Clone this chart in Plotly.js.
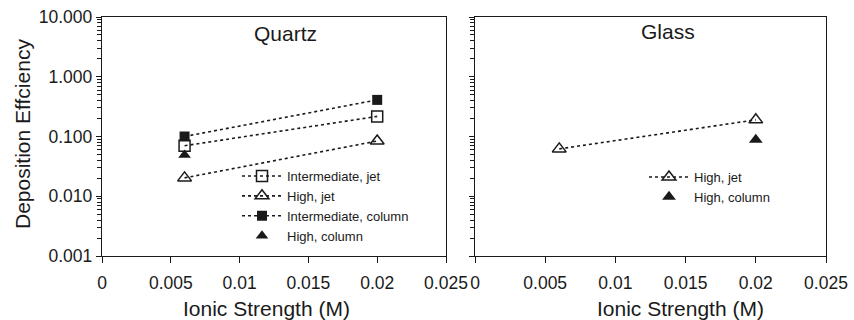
<!DOCTYPE html>
<html>
<head>
<meta charset="utf-8">
<script src="https://cdn.plot.ly/plotly-3.0.1.min.js"></script>
<style>html,body{margin:0;padding:0;background:#fff}#chart{width:854px;height:320px}</style>
</head>
<body>
<div id="chart"></div>
<script>
// Data
const quartzX = [0.006, 0.02];
const quartzIntJet = [0.070, 0.217];
const quartzHighJet = [0.0203, 0.084];
const quartzIntColumn = [0.100, 0.41];
const quartzHighColumnX = [0.006];
const quartzHighColumn = [0.049];

const glassX = [0.006, 0.02];
const glassHighJet = [0.062, 0.19];
const glassHighColumnX = [0.02];
const glassHighColumn = [0.088];

const xTickVals = [0, 0.005, 0.01, 0.015, 0.02, 0.025];
const xTickText = ['0', '0.005', '0.01', '0.015', '0.02', '0.025'];

const FONT = 'Liberation Sans, Arial, Helvetica, sans-serif';
const INK = '#1a1a1a';
const W = 854, H = 320;
const px = v => v / W;
const py = v => 1 - v / H;

const dotLine = {color: INK, width: 1.6, dash: 'dot'};

const traces = [
  {x: quartzX, y: quartzIntJet, name: 'Intermediate, jet', mode: 'lines+markers',
   line: dotLine, marker: {symbol: 'square-open', size: 11, color: INK, line: {width: 1.5, color: INK}},
   xaxis: 'x', yaxis: 'y', legend: 'legend'},
  {x: quartzX, y: quartzHighJet, name: 'High, jet', mode: 'lines+markers',
   line: dotLine, marker: {symbol: 'triangle-up-open', size: 12, color: INK, line: {width: 1.5, color: INK}},
   xaxis: 'x', yaxis: 'y', legend: 'legend'},
  {x: quartzX, y: quartzIntColumn, name: 'Intermediate, column', mode: 'lines+markers',
   line: dotLine, marker: {symbol: 'square', size: 10, color: INK},
   xaxis: 'x', yaxis: 'y', legend: 'legend'},
  {x: quartzHighColumnX, y: quartzHighColumn, name: 'High, column', mode: 'markers',
   marker: {symbol: 'triangle-up', size: 11, color: INK},
   xaxis: 'x', yaxis: 'y', legend: 'legend'},
  {x: glassX, y: glassHighJet, name: 'High, jet', mode: 'lines+markers',
   line: dotLine, marker: {symbol: 'triangle-up-open', size: 12, color: INK, line: {width: 1.5, color: INK}},
   xaxis: 'x2', yaxis: 'y2', legend: 'legend2'},
  {x: glassHighColumnX, y: glassHighColumn, name: 'High, column', mode: 'markers',
   marker: {symbol: 'triangle-up', size: 12, color: INK},
   xaxis: 'x2', yaxis: 'y2', legend: 'legend2'}
];

const yBase = {
  type: 'log', range: [-3, 1], tickmode: 'linear', tick0: 0, dtick: 1, tickformat: '.3f',
  showline: true, linecolor: INK, linewidth: 1.2, mirror: true,
  ticks: 'outside', ticklen: 5, tickcolor: INK, tickwidth: 1,
  minor: {dtick: 'D1', ticks: 'outside', ticklen: 4, tickcolor: INK, tickwidth: 1, showgrid: false},
  showgrid: false, zeroline: false,
  tickfont: {family: FONT, size: 17.5, color: INK},
  domain: [py(256), py(17)]
};
const xBase = {
  range: [0, 0.025], tickmode: 'array', tickvals: xTickVals, ticktext: xTickText,
  showline: true, linecolor: INK, linewidth: 1.2, mirror: true,
  ticks: 'outside', ticklen: 6, tickcolor: INK, tickwidth: 1,
  ticklabelstandoff: 5,
  showgrid: false, zeroline: false,
  tickfont: {family: FONT, size: 17.5, color: INK}
};

const layout = {
  width: W, height: H,
  margin: {l: 0, r: 0, t: 0, b: 0},
  paper_bgcolor: '#fff', plot_bgcolor: '#fff',
  font: {family: FONT, color: INK},
  showlegend: true,
  xaxis: Object.assign({}, xBase, {domain: [px(102), px(446)], anchor: 'y'}),
  yaxis: Object.assign({}, yBase, {anchor: 'x'}),
  xaxis2: Object.assign({}, xBase, {domain: [px(475), px(826)], anchor: 'y2'}),
  yaxis2: Object.assign({}, yBase, {anchor: 'x2', showticklabels: false}),
  legend: {x: px(237), y: py(161), xanchor: 'left', yanchor: 'top', bgcolor: 'rgba(0,0,0,0)',
           font: {family: FONT, size: 13, color: INK}, itemwidth: 40, tracegroupgap: 0},
  legend2: {x: px(644), y: py(162), xanchor: 'left', yanchor: 'top', bgcolor: 'rgba(0,0,0,0)',
           font: {family: FONT, size: 13, color: INK}, itemwidth: 40, tracegroupgap: 0},
  annotations: [
    {text: 'Quartz', x: px(285), y: py(34), xref: 'paper', yref: 'paper', showarrow: false,
     xanchor: 'center', yanchor: 'middle', font: {family: FONT, size: 21, color: INK}},
    {text: 'Glass', x: px(668), y: py(32), xref: 'paper', yref: 'paper', showarrow: false,
     xanchor: 'center', yanchor: 'middle', font: {family: FONT, size: 21, color: INK}},
    {text: 'Deposition Effciency', x: px(22), y: py(134), xref: 'paper', yref: 'paper', showarrow: false,
     textangle: -90, xanchor: 'center', yanchor: 'middle', font: {family: FONT, size: 21, color: INK}},
    {text: 'Ionic Strength (M)', x: px(266), y: py(295), xref: 'paper', yref: 'paper', showarrow: false,
     xanchor: 'center', yanchor: 'top', font: {family: FONT, size: 21, color: INK}},
    {text: 'Ionic Strength (M)', x: px(680), y: py(295), xref: 'paper', yref: 'paper', showarrow: false,
     xanchor: 'center', yanchor: 'top', font: {family: FONT, size: 21, color: INK}}
  ]
};

Plotly.newPlot('chart', traces, layout, {displayModeBar: false, staticPlot: true});
</script>
</body>
</html>
